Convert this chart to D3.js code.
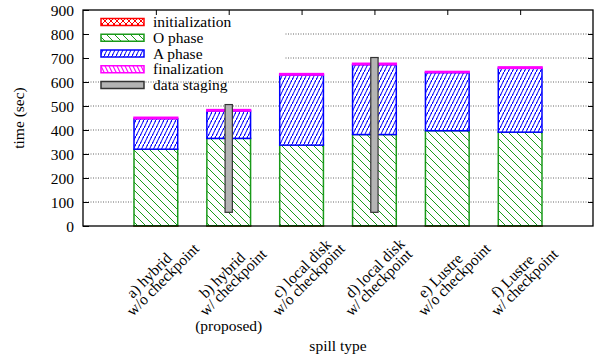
<!DOCTYPE html>
<html><head><meta charset="utf-8">
<script src="https://cdn.jsdelivr.net/npm/d3@7"></script>
<style>
html,body{margin:0;padding:0;background:#fff;}
svg text{font-family:"Liberation Serif","Times New Roman","DejaVu Serif",serif !important;font-size:15.5px;fill:#000;}
</style></head>
<body>
<svg id="c" width="601" height="362" font-family="Liberation Serif, Times New Roman, serif"></svg>
<script>
// ---- data ----
const categories = ["a","b","c","d","e","f"];
const labelLine1 = ["a) hybrid","b) hybrid","c) local disk","d) local disk","e) Lustre","f) Lustre"];
const labelLine2 = ["w/o checkpoint","w/ checkpoint","w/o checkpoint","w/ checkpoint","w/o checkpoint","w/ checkpoint"];
const labelNote = ["","(proposed)","","","",""];
const initialization = [1, 1, 1, 1, 1, 1];
const oPhase = [319, 364, 336, 380, 396, 390];
const aPhase = [127, 114, 292, 291, 242, 266];
const finalization = [6, 6, 6, 6, 5, 6];
const stagingStart = [null, 57, null, 57, null, null];
const stagingEnd = [null, 506, null, 702, null, null];
const yTicks = [0,100,200,300,400,500,600,700,800,900];
const seriesNames = ["initialization","O phase","A phase","finalization"];
const seriesColors = ["#ff0000","#1a9a1a","#0000ff","#ff00ff"];
const seriesPatterns = ["pInit","pO","pA","pFin"];

// ---- layout ----
const FONT = "Liberation Serif, Times New Roman, DejaVu Serif, serif";
const svg = d3.select("#c");
const L = 83, R = 593, T = 10, B = 226;
const x = d3.scaleLinear().domain([0, 7]).range([L, R]);
const y = d3.scaleLinear().domain([0, 900]).range([B, T]);
const barW = 0.6;

// patterns
const defs = svg.append("defs");
function pat(id, w, h, color, paths, sw) {
  const p = defs.append("pattern").attr("id", id).attr("patternUnits", "userSpaceOnUse")
    .attr("width", w).attr("height", h);
  p.append("rect").attr("width", w).attr("height", h).attr("fill", "#fff");
  paths.forEach(d => p.append("path").attr("d", d).attr("stroke", color).attr("stroke-width", sw).attr("fill", "none"));
}
pat("pInit", 6, 6, "#ff0000", ["M0,0L6,6", "M6,0L0,6"], 1);
pat("pO", 8, 8, "#1a9a1a", ["M0,0L8,8", "M-1,7L1,9", "M7,-1L9,1"], 1);
pat("pA", 4, 8, "#0000ff", ["M0,8L4,0", "M-1,10L1,6", "M3,2L5,-2"], 1);
pat("pFin", 4, 8, "#ff00ff", ["M0,0L4,8", "M-1,6L1,10", "M3,-2L5,2"], 1.2);

// grid
svg.append("g").selectAll("line").data(yTicks.filter(v => v > 0 && v < 900)).join("line")
  .attr("x1", L).attr("x2", R).attr("y1", d => y(d)).attr("y2", d => y(d))
  .attr("stroke", "#666").attr("stroke-width", 1).attr("stroke-dasharray", "1,1.5");

// legend background (opaque key)
svg.append("rect").attr("x", L + 1).attr("y", T + 2).attr("width", 200).attr("height", 66).attr("fill", "#fff");

// stacked bars
const rows = categories.map((c, i) => ({
  idx: i + 1, "initialization": initialization[i], "O phase": oPhase[i], "A phase": aPhase[i], "finalization": finalization[i]
}));
const stack = d3.stack().keys(seriesNames)(rows);
stack.forEach((s, si) => {
  svg.append("g").selectAll("rect").data(s).join("rect")
    .attr("x", d => x(d.data.idx - barW / 2))
    .attr("width", x(barW) - x(0))
    .attr("y", d => y(d[1]))
    .attr("height", d => y(d[0]) - y(d[1]))
    .attr("fill", "url(#" + seriesPatterns[si] + ")")
    .attr("stroke", seriesColors[si]).attr("stroke-width", 1.5);
});

// data staging
const stW = 0.1;
svg.append("g").selectAll("rect").data(categories.map((c, i) => ({ idx: i + 1, s: stagingStart[i], e: stagingEnd[i] })).filter(d => d.s != null))
  .join("rect")
  .attr("x", d => x(d.idx - stW / 2)).attr("width", x(stW) - x(0))
  .attr("y", d => y(d.e)).attr("height", d => y(d.s) - y(d.e))
  .attr("fill", "#b4b4b4").attr("stroke", "#333").attr("stroke-width", 1.2);

// frame
svg.append("rect").attr("x", L).attr("y", T).attr("width", R - L).attr("height", B - T)
  .attr("fill", "none").attr("stroke", "#000").attr("stroke-width", 1.3);

// y ticks (left & right, inward)
const yAxisL = d3.axisLeft(y).tickValues(yTicks).tickSize(-6).tickPadding(9).tickFormat(d3.format("d"));
const gL = svg.append("g").attr("transform", `translate(${L},0)`).call(yAxisL);
gL.select(".domain").remove();
gL.attr("font-family", FONT).attr("font-size", 15.5);
gL.selectAll("text").attr("dy", null).attr("y", 5);
gL.selectAll("line").attr("stroke", "#000");
const yAxisR = d3.axisRight(y).tickValues(yTicks.filter(v => v > 0 && v < 900)).tickSize(-5).tickFormat("");
const gR = svg.append("g").attr("transform", `translate(${R},0)`).call(yAxisR);
gR.select(".domain").remove();

// top x ticks
const xTop = d3.axisTop(x).tickValues(categories.map((c, i) => i + 1)).tickSize(-5).tickFormat("");
const gT = svg.append("g").attr("transform", `translate(0,${T})`).call(xTop);
gT.select(".domain").remove();

// x labels
const lg = svg.append("g").attr("font-family", FONT).attr("font-size", 15.5);
categories.forEach((c, i) => {
  const cx = x(i + 1);
  const x0 = cx - 23, y0 = 299;
  lg.append("text").attr("transform", `translate(${x0},${y0}) rotate(-45)`).text(labelLine1[i]);
  lg.append("text").attr("transform", `translate(${x0},${y0 + 18}) rotate(-45)`).text(labelLine2[i]);
  if (labelNote[i]) lg.append("text").attr("x", cx).attr("y", 331).attr("text-anchor", "middle").text(labelNote[i]);
});

// axis titles
const tg = svg.append("g").attr("font-family", FONT).attr("font-size", 15.5);
tg.append("text").attr("x", (L + R) / 2).attr("y", 351).attr("text-anchor", "middle").text("spill type");
tg.append("text").attr("transform", `translate(24,${(T + B) / 2}) rotate(-90)`).attr("text-anchor", "middle").text("time (sec)");

// legend
const legendNames = ["initialization","O phase","A phase","finalization","data staging"];
const legendFills = ["url(#pInit)","url(#pO)","url(#pA)","url(#pFin)","#b4b4b4"];
const legendStrokes = ["#ff0000","#1a9a1a","#0000ff","#ff00ff","#333"];
const rowY = d3.scaleLinear().domain([0, 4]).range([22, 85]);
const leg = svg.append("g").attr("font-family", FONT).attr("font-size", 15.5);
legendNames.forEach((n, i) => {
  leg.append("rect").attr("x", 101).attr("y", rowY(i) - 3.5).attr("width", 43).attr("height", 7)
    .attr("fill", legendFills[i]).attr("stroke", legendStrokes[i]).attr("stroke-width", 1.5);
  leg.append("text").attr("x", 153).attr("y", rowY(i) + 5).text(n);
});
</script>
</body></html>
